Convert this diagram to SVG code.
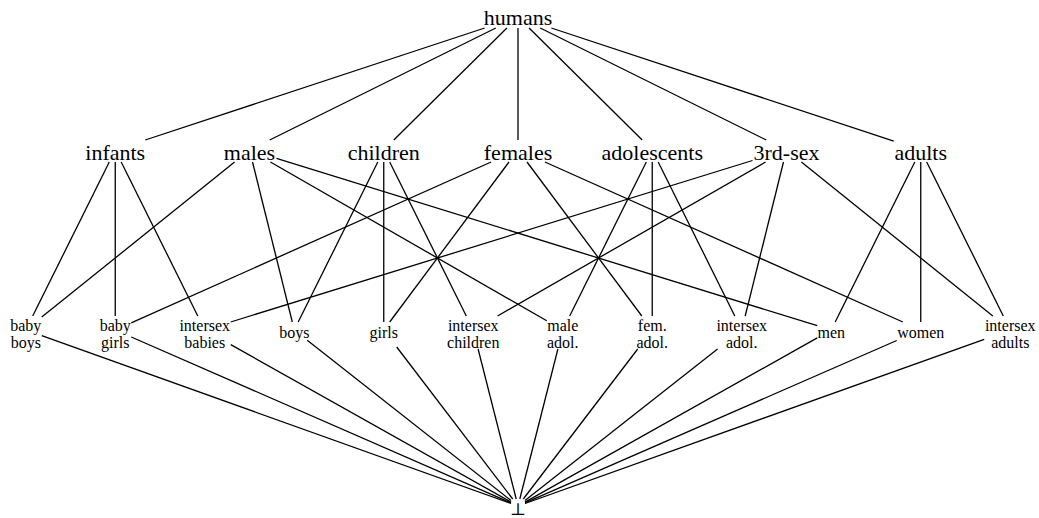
<svg xmlns="http://www.w3.org/2000/svg" width="1039" height="518" viewBox="0 0 1039 518">
<style>
.big{font-family:"Liberation Serif","Times New Roman",serif;font-size:22px;fill:#000;text-anchor:middle}
.sm{font-family:"Liberation Serif","Times New Roman",serif;font-size:16px;fill:#000;text-anchor:middle}
.bot{font-family:"DejaVu Serif","DejaVu Sans",serif;font-size:17px;fill:#000;text-anchor:middle}
#edges line{stroke:#000;stroke-width:1.3;fill:none}
</style>
<rect width="1039" height="518" fill="#fff"/>
<g id="edges">
<!-- humans to middle -->
<line x1="484.7" y1="28" x2="145.2" y2="140"/>
<line x1="495.8" y1="28" x2="269.7" y2="140"/>
<line x1="506.9" y1="28" x2="393.8" y2="140"/>
<line x1="518" y1="28" x2="518" y2="140"/>
<line x1="529.1" y1="28" x2="642.2" y2="140"/>
<line x1="540.2" y1="28" x2="766.3" y2="140"/>
<line x1="551.3" y1="28" x2="893.75" y2="141.1"/>
<!-- infants -->
<line x1="109.3" y1="162" x2="32.7" y2="316"/>
<line x1="115.25" y1="162" x2="115.25" y2="316"/>
<line x1="121.2" y1="162" x2="197.8" y2="316"/>
<!-- males -->
<line x1="234.6" y1="162" x2="41.75" y2="317.1"/>
<line x1="252.5" y1="162" x2="292.3" y2="322"/>
<line x1="270.4" y1="162" x2="546.75" y2="320.8"/>
<line x1="276.5" y1="158.4" x2="817.25" y2="325.7"/>
<!-- children -->
<line x1="377.8" y1="162" x2="298.2" y2="322"/>
<line x1="383.75" y1="162" x2="383.75" y2="322"/>
<line x1="389.7" y1="162" x2="466.3" y2="316"/>
<!-- females -->
<line x1="491.1" y1="162" x2="131.25" y2="322.85"/>
<line x1="509" y1="162" x2="389.7" y2="322"/>
<line x1="527" y1="162" x2="641.8" y2="316"/>
<line x1="544.9" y1="162" x2="902.85" y2="322"/>
<!-- adolescents -->
<line x1="646.3" y1="162" x2="569.7" y2="316"/>
<line x1="652.25" y1="162" x2="652.25" y2="316"/>
<line x1="658.2" y1="162" x2="734.8" y2="316"/>
<!-- 3rd-sex -->
<line x1="752.5" y1="160.5" x2="230.75" y2="322"/>
<line x1="765.6" y1="162" x2="497.6" y2="316"/>
<line x1="783.5" y1="162" x2="745.2" y2="316"/>
<line x1="801.4" y1="162" x2="992.8" y2="316"/>
<!-- adults -->
<line x1="914.8" y1="162" x2="835.2" y2="322"/>
<line x1="920.75" y1="162" x2="920.75" y2="322"/>
<line x1="926.7" y1="162" x2="1003.3" y2="316"/>
<!-- bottom to bottom element -->
<line x1="41.75" y1="335.7" x2="511" y2="503.5"/>
<line x1="131.25" y1="337" x2="511" y2="502.9"/>
<line x1="230.75" y1="344.6" x2="511" y2="502.1"/>
<line x1="307.25" y1="340.2" x2="511" y2="500.5"/>
<line x1="396.7" y1="347" x2="512.7" y2="499"/>
<line x1="478.1" y1="349" x2="516.2" y2="499"/>
<line x1="557.9" y1="349" x2="519.8" y2="499"/>
<line x1="637.7" y1="349" x2="523.3" y2="499"/>
<line x1="717.6" y1="349" x2="525" y2="500.5"/>
<line x1="817.25" y1="337.9" x2="525" y2="502.1"/>
<line x1="896.75" y1="340.5" x2="525" y2="502.9"/>
<line x1="984.25" y1="339.3" x2="525" y2="503.5"/>
</g>
<g id="humans"><text class="big" x="518" y="25">humans</text></g>
<g id="infants"><text class="big" x="115.25" y="160">infants</text></g>
<g id="males"><text class="big" x="249.5" y="160">males</text></g>
<g id="children"><text class="big" x="383.75" y="160">children</text></g>
<g id="females"><text class="big" x="518" y="160">females</text></g>
<g id="adolescents"><text class="big" x="652.25" y="160">adolescents</text></g>
<g id="third-sex"><text class="big" x="786.5" y="160">3rd-sex</text></g>
<g id="adults"><text class="big" x="920.75" y="160">adults</text></g>
<g id="baby-boys"><text class="sm" x="25.75" y="331">baby</text><text class="sm" x="25.75" y="348">boys</text></g>
<g id="baby-girls"><text class="sm" x="115.25" y="331">baby</text><text class="sm" x="115.25" y="348">girls</text></g>
<g id="intersex-babies"><text class="sm" x="204.75" y="331">intersex</text><text class="sm" x="204.75" y="348">babies</text></g>
<g id="boys"><text class="sm" x="294.25" y="338">boys</text></g>
<g id="girls"><text class="sm" x="383.75" y="338">girls</text></g>
<g id="intersex-children"><text class="sm" x="473.25" y="331">intersex</text><text class="sm" x="473.25" y="348">children</text></g>
<g id="male-adol"><text class="sm" x="562.75" y="331">male</text><text class="sm" x="562.75" y="348">adol.</text></g>
<g id="fem-adol"><text class="sm" x="652.25" y="331">fem.</text><text class="sm" x="652.25" y="348">adol.</text></g>
<g id="intersex-adol"><text class="sm" x="741.75" y="331">intersex</text><text class="sm" x="741.75" y="348">adol.</text></g>
<g id="men"><text class="sm" x="831.25" y="338">men</text></g>
<g id="women"><text class="sm" x="920.75" y="338">women</text></g>
<g id="intersex-adults"><text class="sm" x="1010.25" y="331">intersex</text><text class="sm" x="1010.25" y="348">adults</text></g>
<g id="bottom"><text class="bot" x="518" y="515">⊥</text></g>
</svg>
